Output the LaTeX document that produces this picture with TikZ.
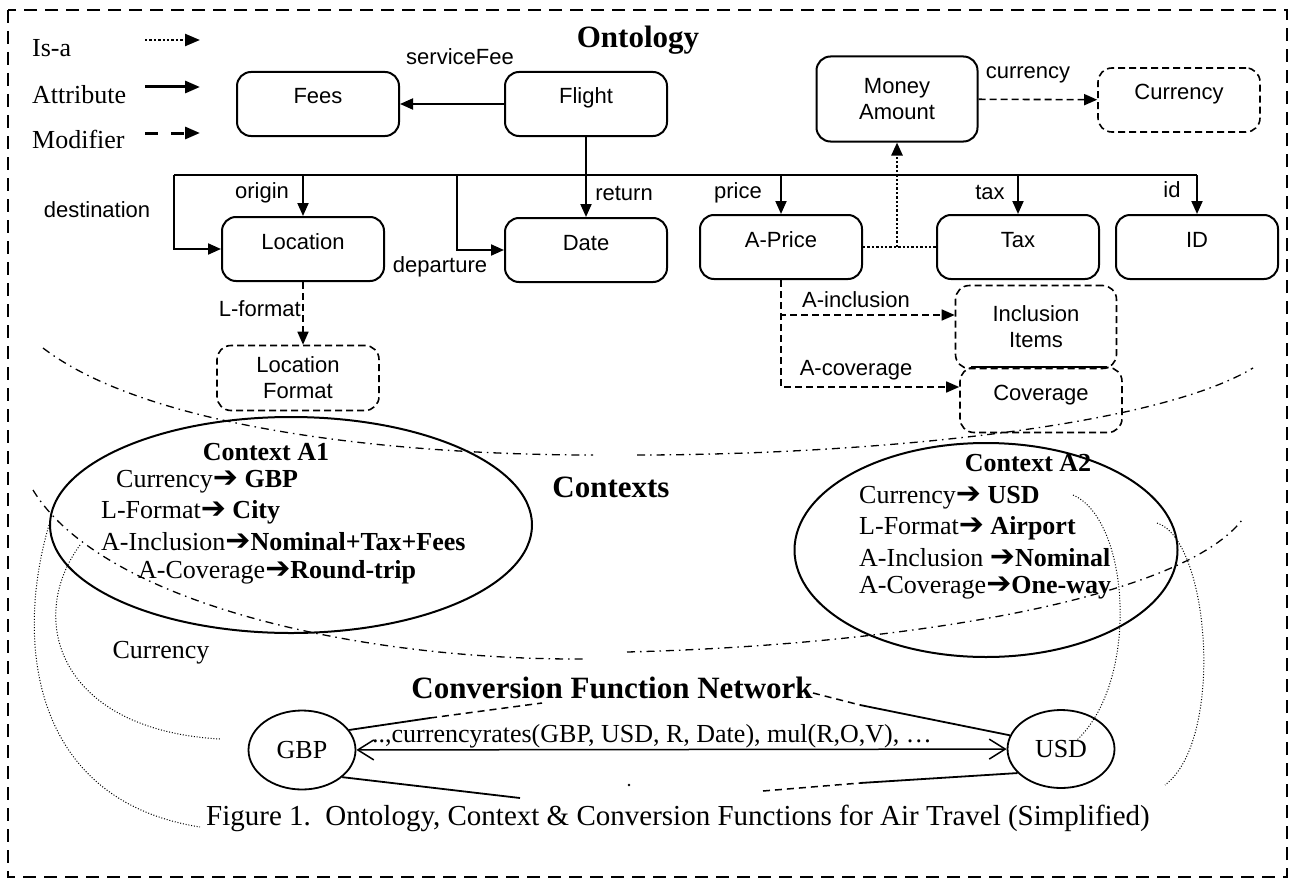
\documentclass[tikz,border=0pt]{standalone}
\usepackage{fontspec}
\setmainfont{Liberation Serif}
\setsansfont{Liberation Sans}
\newfontfamily\arrowfont{DejaVu Sans}
\usetikzlibrary{arrows.meta,shapes.geometric}
\newcommand{\fsz}[1]{\fontsize{#1}{#1}\selectfont}
\newcommand{\goesto}{{\arrowfont\bfseries\fontsize{30}{30}\selectfont ➔}}

\tikzset{
  boxbase/.style={draw, line width=2pt, rounded corners=14pt, minimum width=162pt,
    minimum height=64pt, align=center, inner sep=2pt, font=\sffamily\fontsize{22}{26}\selectfont},
  box/.style={boxbase, text height=16pt, text depth=16pt},
  dash box/.style={dash pattern=on 7pt off 4pt, line width=1.6pt},
  lbl/.style={font=\sffamily\fsz{22}, inner sep=1pt},
  ctx/.style={font=\fsz{26}, inner sep=1pt},
  attr/.style={line width=2pt, -{Triangle[length=13pt,width=11pt]}},
  isa/.style={line width=2.4pt, dash pattern=on 2.4pt off 2pt},
  mod/.style={line width=1.6pt, dash pattern=on 7pt off 4pt, -{Triangle[length=13pt,width=11pt]}},
  sep/.style={line width=1.3pt, dash pattern=on 8pt off 5pt on 1.5pt off 5pt},
  link/.style={line width=1pt, dash pattern=on 1pt off 1.8pt},
  tube/.style={line width=1.8pt},
  dtube/.style={line width=1.5pt, dash pattern=on 7pt off 5pt},
}

\begin{document}
\begin{tikzpicture}[x=1pt, y=-1pt]
  \useasboundingbox (0,0) rectangle (1289,880);
  \draw[line width=2.7pt, dash pattern=on 13pt off 8pt] (8,10) rectangle (1287,877);

  % legend
  \node[anchor=base west, font=\fsz{26}, inner sep=0] (kisa) at (32,57) {Is-a};
  \node[anchor=base west, font=\fsz{26}, inner sep=0] (kattr) at (32,103) {Attribute};
  \node[anchor=base west, font=\fsz{26}, inner sep=0] (kmod) at (32,148) {Modifier};
  \coordinate (kisa0) at (145,40);  \coordinate (kisa1) at (200,40);
  \coordinate (kattr0) at (145,87); \coordinate (kattr1) at (200,87);
  \coordinate (kmod0) at (145,133); \coordinate (kmod1) at (200,133);
  \draw[isa, -{Triangle[length=15pt,width=12pt]}] (kisa0) -- (kisa1);
  \draw[line width=3pt, -{Triangle[length=15pt,width=12pt]}] (kattr0) -- (kattr1);
  \draw[line width=3pt, dash pattern=on 13pt off 13pt, -{Triangle[length=15pt,width=12pt]}] (kmod0) -- (kmod1);

  % ontology
  \node[font=\bfseries\fsz{31}] (onto) at (638,40) {Ontology};
  \node[box] (fees) at (318,104) {Fees};
  \node[box] (flight) at (586,104) {Flight};
  \node[boxbase, minimum width=161pt, minimum height=85pt] (money) at (897,99) {Money\\Amount};
  \node[box, dash box] (curr) at (1179,100) {Currency};
  \node[box] (loc) at (303,249) {Location};
  \node[box] (date) at (586,250) {Date};
  \node[box] (price) at (781,247) {A-Price};
  \node[box] (tax) at (1018,247) {Tax};
  \node[box] (id) at (1197,247) {ID};
  \node[boxbase, dash box, minimum height=65pt] (locfmt) at (298,378) {Location\\Format};
  \node[boxbase, dash box, minimum width=161pt, minimum height=83pt] (incl) at (1036,327) {Inclusion\\Items};
  \node[box, dash box, minimum height=65pt] (cov) at (1041,400) {Coverage};

  \node[lbl] (lsvc) at (460,57) {serviceFee};
  \node[lbl] (lcurr) at (1028,75) {currency};
  \node[lbl] (lorig) at (262,193) {origin};
  \node[lbl] (ldest) at (97,210) {destination};
  \node[lbl] (ldep) at (440,267) {departure};
  \node[lbl] (lret) at (624,193) {return};
  \node[lbl] (lprice) at (738,193) {price};
  \node[lbl] (ltax) at (990,192) {tax};
  \node[lbl] (lid) at (1172,190) {id};
  \node[lbl, anchor=east] (llf) at (302,309) {L-format};
  \node[lbl] (linc) at (856,300) {A-inclusion};
  \node[lbl] (lcov) at (856,370) {A-coverage};

  \coordinate (busw) at (174,175);
  \coordinate (buse) at (1197,175);
  \coordinate (depx) at (457,175);
  \draw[line width=2pt] (busw) -- (buse);
  \draw[attr] (flight) -- (fees);
  \draw[attr] (flight) -- (date);
  \draw[attr] (busw) |- (loc);
  \draw[attr] (depx) |- (date);
  \draw[attr] (loc.north |- busw) -- (loc.north);
  \draw[attr] (price.north |- busw) -- (price.north);
  \draw[attr] (tax.north |- busw) -- (tax.north);
  \draw[attr] (id.north |- busw) -- (id.north);

  \draw[isa] (price) -- (tax);
  \coordinate (isam) at (money.south |- price.east);
  \draw[isa, -{Triangle[length=13pt,width=11pt]}] (isam) -- (money.south);

  \draw[mod] (money) -- (curr);
  \draw[mod] (loc.south) -- (loc.south |- locfmt.north);
  \draw[mod] (price.south) |- ([yshift=12pt]incl.west);
  \draw[mod] (price.south) |- ([yshift=13pt]cov.west);
  \draw[line width=1.6pt] ([xshift=12pt]cov.north west) -- ([xshift=-16pt]cov.north east);

  % separators
  \draw[sep] (43,348) .. controls (150,430) and (400,455) .. (593,455);
  \draw[sep] (637,455) .. controls (850,455) and (1150,430) .. (1253,368);
  \draw[sep] (33,490) .. controls (100,600) and (350,660) .. (583,659);
  \draw[sep] (627,652) .. controls (900,645) and (1180,600) .. (1242,520);

  % contexts
  \node[font=\bfseries\fsz{31}] (ctxs) at (611,487) {Contexts};
  \node[draw, ellipse, line width=2pt, minimum width=482pt, minimum height=216pt] (ctxa) at (291,525) {};
  \node[draw, ellipse, line width=2pt, minimum width=383pt, minimum height=214pt] (ctxb) at (986,550) {};
  \node[ctx, font=\bfseries\fsz{26}] (ha) at (266,452) {Context A1};
  \node[ctx, anchor=west] (a1) at (115,482) {Currency\goesto{} \textbf{GBP}};
  \node[ctx, anchor=west] (a2) at (100,512) {L-Format\goesto{} \textbf{City}};
  \node[ctx, anchor=west] (a3) at (100,542) {A-Inclusion\goesto\textbf{Nominal+Tax+Fees}};
  \node[ctx, anchor=west] (a4) at (137,572) {A-Coverage\goesto\textbf{Round-trip}};
  \node[ctx, font=\bfseries\fsz{26}] (hb) at (1028,463) {Context A2};
  \node[ctx, anchor=west] (b1) at (858,498) {Currency\goesto{} \textbf{USD}};
  \node[ctx, anchor=west] (b2) at (858,528) {L-Format\goesto{} \textbf{Airport}};
  \node[ctx, anchor=west] (b3) at (858,558) {A-Inclusion \goesto\textbf{Nominal}};
  \node[ctx, anchor=west] (b4) at (858,588) {A-Coverage\goesto\textbf{One-way}};

  % conversion function network
  \node[font=\bfseries\fsz{31}] (cfn) at (612,688) {Conversion Function Network};
  \node[ctx] (lcur) at (161,653) {Currency};
  \node[draw, ellipse, line width=1.8pt, minimum width=107pt, minimum height=79pt, font=\fsz{26}] (gbp) at (302,750) {GBP};
  \node[draw, ellipse, line width=1.8pt, minimum width=107pt, minimum height=78pt, font=\fsz{26}] (usd) at (1061,749) {USD};
  \draw[line width=1.5pt, {Straight Barb[length=16pt,width=20pt]}-{Straight Barb[length=16pt,width=20pt]}] (gbp) -- (usd);
  \node[ctx] (fn) at (652,737) {\underline{..,currencyrates(GBP, USD, R, Date), mul(R,O,V), \ldots}};

  \coordinate (u1) at (430,718); \coordinate (u2) at (542,703);
  \coordinate (u3) at (813,693); \coordinate (u4) at (860,705);
  \coordinate (d1) at (520,798); \coordinate (d2) at (763,791); \coordinate (d3) at (860,783);
  \draw[tube] (gbp.23) -- (u1);
  \draw[dtube] (u1) -- (u2);
  \draw[dtube] (u3) -- (u4);
  \draw[tube] (u4) -- (usd.165);
  \draw[tube] (gbp.-34) -- (d1);
  \fill (629,785) circle (1.3pt);
  \draw[dtube] (d2) -- (d3);
  \draw[tube] (d3) -- (usd.209);

  % currency links
  \coordinate (la0) at (80,545);  \coordinate (la1) at (220,739);
  \coordinate (lb1) at (200,827);
  \coordinate (ra0) at (1073,495); \coordinate (ra1) at (1077,740);
  \coordinate (rb0) at (1157,523); \coordinate (rb1) at (1165,785);
  \draw[link] (la0) .. controls (25,620) and (60,730) .. (la1);
  \draw[link] (ctxa.west) .. controls (15,640) and (30,800) .. (lb1);
  \draw[link] (ra0) .. controls (1130,520) and (1140,680) .. (ra1);
  \draw[link] (rb0) .. controls (1210,540) and (1225,740) .. (rb1);

  \node[font=\fsz{29}] (cap) at (678,818) {Figure 1.\ \ Ontology, Context \& Conversion Functions for Air Travel (Simplified)};
\end{tikzpicture}
\end{document}
